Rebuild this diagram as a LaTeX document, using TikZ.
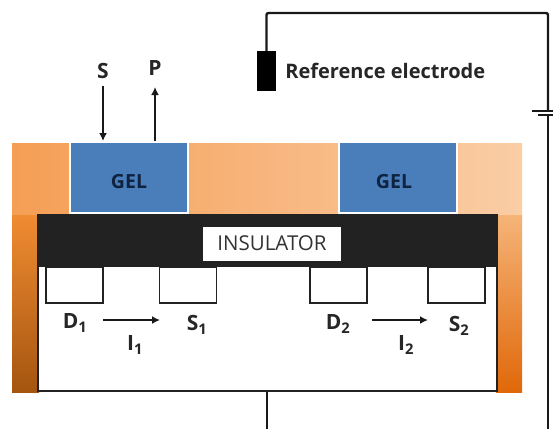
\documentclass[tikz,border=0pt]{standalone}
\usepackage{fontspec}
\setmainfont{Open Sans}
\usepackage{tikz}
\usetikzlibrary{arrows.meta,positioning}

\definecolor{gelblue}{HTML}{4A7EBB}
\definecolor{gelink}{HTML}{0F2340}
\definecolor{insblack}{HTML}{222222}

\tikzset{
  gel/.style={fill=gelblue,draw=white,line width=2pt,inner sep=0pt,minimum width=118pt,minimum height=71pt,text=gelink,font=\fontsize{19.5}{20}\selectfont\bfseries},
  wellbox/.style={draw=insblack,line width=1.6pt,fill=white,inner sep=0pt,minimum width=57pt,minimum height=36pt},
  tag/.style={inner sep=0pt,text=black!85,font=\fontsize{21}{21}\selectfont\bfseries},
  wire/.style={draw=black!90,line width=2.4pt},
  flow/.style={draw=black!90,line width=1.8pt,-{Latex[length=8pt,width=8pt]}}
}

\begin{document}
\begin{tikzpicture}[x=1pt,y=-1pt]
\useasboundingbox [fill=white] (0,0) rectangle (553,429);
% orange frame
\shade [left color={rgb,255:red,245;green,158;blue,85}, right color={rgb,255:red,250;green,205;blue,165}] (12,143) rectangle (522,216);
\shade [top color={rgb,255:red,240;green,140;blue,50}, bottom color={rgb,255:red,165;green,85;blue,15}] (12,215) rectangle (39,392);
\shade [top color={rgb,255:red,245;green,180;blue,120}, bottom color={rgb,255:red,224;green,104;blue,10}] (496,215) rectangle (522,392);
% gel
\node (gela) [gel] at (129,177.5) {\smash{\raisebox{-10.5pt}{GEL}}};
\node (gelb) [gel] at (397.5,177.5) {\smash{\raisebox{-10.5pt}{\hspace*{-7pt}GEL}}};
% device
\node (device) [draw=insblack,line width=1.6pt,fill=white,inner sep=0pt,minimum width=459pt,minimum height=176pt] at (267.5,303) {};
\node (insulator) [fill=insblack,inner sep=0pt,minimum width=459pt,minimum height=52pt] at (267.5,241) {};
\node (inslabel) [fill=white,inner sep=0pt,minimum width=138pt,minimum height=34pt,text=black!80,font=\fontsize{20.5}{20.5}\selectfont] at (272,243.5) {INSULATOR};
% wells
\node (wella) [wellbox] at (74.5,285) {};
\node (wellb) [wellbox] at (188,285) {};
\node (wellc) [wellbox] at (338.5,285) {};
\node (welld) [wellbox] at (456.5,285) {};
% labels
\node (S) [tag] at (103,71) {S};
\node (P) [tag] at (155,68) {P};
\node (Done) [tag] at (75,323) {D\textsubscript{1}};
\node (Sone) [tag] at (197,325) {S\textsubscript{1}};
\node (Ione) [tag] at (135,345) {I\textsubscript{1}};
\node (Dtwo) [tag] at (338,324) {D\textsubscript{2}};
\node (Stwo) [tag] at (459,326) {S\textsubscript{2}};
\node (Itwo) [tag] at (406,345) {I\textsubscript{2}};
% arrows
\coordinate (Sstart) at (103,86);
\coordinate (Pend) at (155,87);
\draw [flow] (Sstart) -- (Sstart |- gela.north);
\draw [flow] (Pend |- gela.north) -- (Pend);
\coordinate (ionestart) at (103,320);
\coordinate (ioneend) at (160,320);
\coordinate (itwostart) at (372,320);
\coordinate (itwoend) at (428,320);
\draw [flow] (ionestart) -- (ioneend);
\draw [flow] (itwostart) -- (itwoend);
% electrode
\node (electrode) [fill=black,inner sep=0pt,minimum width=19pt,minimum height=40pt] at (266.5,71) {};
\node (reflabel) [right=9pt of electrode,inner sep=0pt,text=black!85,font=\fontsize{20}{20}\selectfont\bfseries] {Reference electrode};
% battery and wires
\coordinate (topright) at (548,13);
\coordinate (plate) at (548,111);
\coordinate (lowplate) at (548,115);
\coordinate (bottomright) at (548,429);
\coordinate (bottomleft) at (267,429);
\draw [wire,rounded corners=2pt] (electrode.north) -- (electrode.north |- topright) -- (topright) -- (plate);
\draw [wire] (lowplate) -- (bottomright);
\draw [wire] (device.south -| bottomleft) -- (bottomleft);
\draw [black!90,line width=1.2pt] ([xshift=-16pt]plate) -- ([xshift=5pt]plate);
\draw [black!90,line width=2.4pt] ([xshift=-10pt]lowplate) -- ([xshift=5pt]lowplate);
\end{tikzpicture}
\end{document}
